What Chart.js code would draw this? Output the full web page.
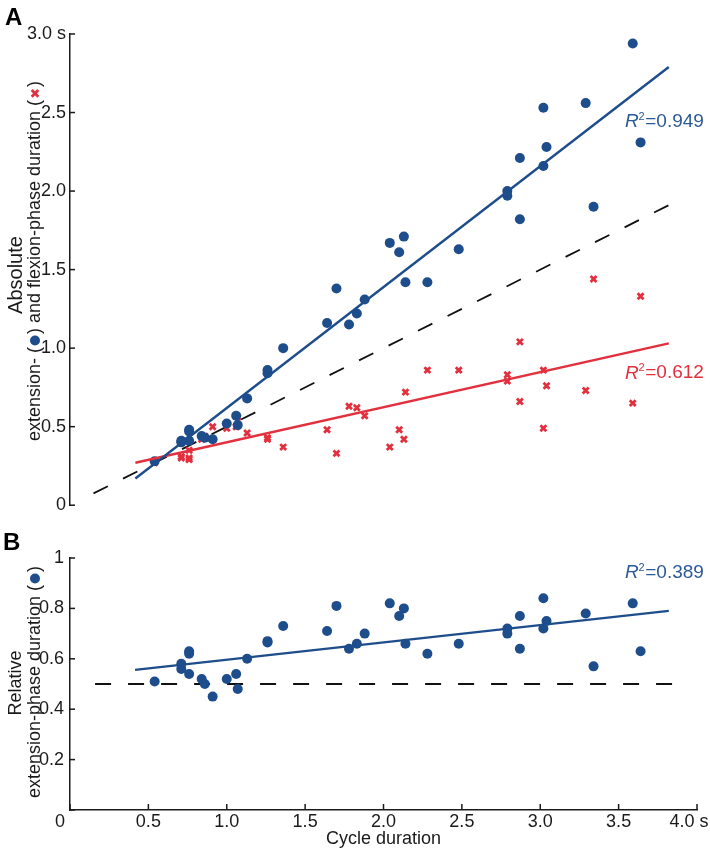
<!DOCTYPE html>
<html><head><meta charset="utf-8">
<script src="https://cdn.jsdelivr.net/npm/chart.js@4.4.1/dist/chart.umd.min.js"></script>
<style>
html,body{margin:0;padding:0;background:#fff;}
#wrap{position:relative;width:710px;height:853px;overflow:hidden;}
canvas{position:absolute;left:0;}
#cTop{top:0;}
#cBot{top:520px;}
</style></head><body>
<div id="wrap">
<canvas id="cTop" width="710" height="520"></canvas>
<canvas id="cBot" width="710" height="333"></canvas>
</div>
<script>
// ---- data ----
const cycleDuration = [0.54,0.71,0.71,0.76,0.76,0.76,0.84,0.86,0.91,1.00,1.06,1.07,1.13,1.26,1.26,1.36,1.64,1.70,1.78,1.83,1.88,2.04,2.10,2.13,2.14,2.28,2.48,2.79,2.79,2.87,2.87,3.02,3.02,3.04,3.29,3.34,3.59,3.64];
const extensionDuration = [0.28,0.41,0.40,0.48,0.47,0.41,0.44,0.43,0.42,0.52,0.57,0.51,0.68,0.86,0.84,1.00,1.16,1.38,1.15,1.22,1.31,1.67,1.61,1.71,1.42,1.42,1.63,2.00,1.97,2.21,1.82,2.53,2.16,2.28,2.56,1.90,2.94,2.31];
const flexionDuration = [0.27,0.31,0.30,0.29,0.30,0.35,0.42,0.44,0.50,0.49,0.50,0.56,0.46,0.43,0.42,0.37,0.48,0.33,0.63,0.62,0.57,0.37,0.48,0.42,0.72,0.86,0.86,0.79,0.83,0.66,1.04,0.49,0.86,0.76,0.73,1.44,0.65,1.33];
const relativeExtension = [0.51,0.58,0.56,0.63,0.62,0.54,0.52,0.50,0.45,0.52,0.54,0.48,0.60,0.67,0.665,0.73,0.71,0.81,0.64,0.66,0.70,0.82,0.77,0.80,0.66,0.62,0.66,0.72,0.70,0.77,0.64,0.84,0.72,0.75,0.78,0.57,0.82,0.63];

// fitted / reference lines (end points)
const extFitX = [0.417, 3.82];   const extFitY = [0.17, 2.79];
const flexFitX = [0.417, 3.82];  const flexFitY = [0.27, 1.03];
const halfCycleX = [0.15, 3.82]; const halfCycleY = [0.075, 1.91];
const relFitX = [0.415, 3.82];   const relFitY = [0.556, 0.79];
const halfRelX = [0.16, 3.85];   const halfRelY = [0.5, 0.5];

const r2Values = ['0.949', '0.612', '0.389'];
const r2PosX = [3.54, 3.54, 3.54];
const r2PosY = [2.44, 0.84, 0.94];

const topTickValues = [0, 0.5, 1.0, 1.5, 2.0, 2.5, 3.0];
const topTickLabels = ['0', '0.5', '1.0', '1.5', '2.0', '2.5', '3.0 s'];
const botYTickValues = [0.2, 0.4, 0.6, 0.8, 1];
const botYTickLabels = ['0.2', '0.4', '0.6', '0.8', '1'];
const xTickValues = [0, 0.5, 1.0, 1.5, 2.0, 2.5, 3.0, 3.5, 4.0];
const xTickLabels = ['0', '0.5', '1.0', '1.5', '2.0', '2.5', '3.0', '3.5', '4.0 s'];

// ---- styling ----
const FONT = '"Liberation Sans", Arial, Helvetica, sans-serif';
const BLUE = '#1e4d8c';
const BLUE_TXT = '#2b5a98';
const RED = '#e2303e';
const AXIS = '#1a1a1a';
const TXT = '#1a1a1a';

function pts(xs, ys){ return xs.map((x,i)=>({x:x, y:ys[i]})); }
function labelFor(vals, labels, v){
  for (let i=0;i<vals.length;i++) if (Math.abs(vals[i]-v)<1e-6) return labels[i];
  return '';
}

function drawCircleMarker(ctx, x, y){
  ctx.save(); ctx.fillStyle = BLUE; ctx.beginPath(); ctx.arc(x, y, 5, 0, Math.PI*2); ctx.fill(); ctx.restore();
}
function drawCrossMarker(ctx, x, y){
  ctx.save(); ctx.strokeStyle = RED; ctx.lineWidth = 2.8; ctx.lineCap='butt';
  const d = 3.3;
  ctx.beginPath(); ctx.moveTo(x-d,y-d); ctx.lineTo(x+d,y+d); ctx.moveTo(x-d,y+d); ctx.lineTo(x+d,y-d); ctx.stroke(); ctx.restore();
}
// draw rotated text made of segments; markers are {marker:fn, w:width}
function drawRotatedLine(ctx, cx, cy, parts, font){
  ctx.save();
  ctx.font = font; ctx.fillStyle = TXT; ctx.textBaseline = 'middle'; ctx.textAlign = 'left';
  let total = 0;
  parts.forEach(p => { total += (typeof p === 'string') ? ctx.measureText(p).width : p.w; });
  ctx.translate(cx, cy); ctx.rotate(-Math.PI/2);
  let x = -total/2;
  parts.forEach(p => {
    if (typeof p === 'string') { ctx.fillText(p, x, 0); x += ctx.measureText(p).width; }
    else { p.marker(ctx, x + p.w/2, 0); x += p.w; }
  });
  ctx.restore();
}
function drawR2(ctx, x, y, val, color){
  ctx.save();
  ctx.fillStyle = color; ctx.textBaseline = 'middle'; ctx.textAlign = 'left';
  ctx.font = 'italic 19px ' + FONT;
  ctx.fillText('R', x, y); let w = ctx.measureText('R').width;
  ctx.font = '11px ' + FONT;
  ctx.fillText('2', x + w, y - 5); w += ctx.measureText('2').width + 0.5;
  ctx.font = '19px ' + FONT;
  ctx.fillText('=' + val, x + w, y);
  ctx.restore();
}
function inwardYTicks(ctx, chart, len){
  const s = chart.scales.y, left = chart.chartArea.left;
  ctx.save(); ctx.strokeStyle = AXIS; ctx.lineWidth = 1.5;
  s.ticks.forEach(t => { const y = s.getPixelForValue(t.value); ctx.beginPath(); ctx.moveTo(left, y); ctx.lineTo(left+len, y); ctx.stroke(); });
  ctx.restore();
}
function inwardXTicks(ctx, chart, len){
  const s = chart.scales.x, bottom = chart.chartArea.bottom;
  ctx.save(); ctx.strokeStyle = AXIS; ctx.lineWidth = 1.5;
  s.ticks.forEach(t => { const x = s.getPixelForValue(t.value); ctx.beginPath(); ctx.moveTo(x, bottom); ctx.lineTo(x, bottom-len); ctx.stroke(); });
  ctx.restore();
}

const F18 = '18px ' + FONT;

const topDecor = {
  id: 'topDecor',
  afterDraw(chart){
    const ctx = chart.ctx, xs = chart.scales.x, ys = chart.scales.y;
    inwardYTicks(ctx, chart, 5);
    // panel letter
    ctx.save(); ctx.fillStyle = '#000'; ctx.font = 'bold 24px ' + FONT; ctx.textBaseline='alphabetic';
    ctx.fillText('A', 5, 25); ctx.restore();
    // axis title (two lines)
    drawRotatedLine(ctx, 16, 275, ['Absolute'], '20px ' + FONT);
    drawRotatedLine(ctx, 35, 261, ['extension- (', {marker:drawCircleMarker, w:13}, ') and flexion-phase duration (', {marker:drawCrossMarker, w:13}, ')'], F18);
    // R^2 labels
    drawR2(ctx, xs.getPixelForValue(r2PosX[0]), ys.getPixelForValue(r2PosY[0]), r2Values[0], BLUE_TXT);
    drawR2(ctx, xs.getPixelForValue(r2PosX[1]), ys.getPixelForValue(r2PosY[1]), r2Values[1], RED);
  }
};

const botDecor = {
  id: 'botDecor',
  afterDraw(chart){
    const ctx = chart.ctx, xs = chart.scales.x, ys = chart.scales.y;
    inwardYTicks(ctx, chart, 5);
    inwardXTicks(ctx, chart, 6);
    ctx.save(); ctx.fillStyle = '#000'; ctx.font = 'bold 24px ' + FONT; ctx.textBaseline='alphabetic';
    ctx.fillText('B', 3, 30); ctx.restore();
    drawRotatedLine(ctx, 16, 163, ['Relative'], F18);
    drawRotatedLine(ctx, 35, 162, ['extension-phase duration (', {marker:drawCircleMarker, w:13}, ')'], F18);
    drawR2(ctx, xs.getPixelForValue(r2PosX[2]), ys.getPixelForValue(r2PosY[2]), r2Values[2], BLUE_TXT);
    // end labels of the x axis (offset as in the figure)
    ctx.save(); ctx.fillStyle = TXT; ctx.font = F18; ctx.textBaseline = 'middle'; ctx.textAlign = 'center';
    const ly = chart.chartArea.bottom + 12;
    ctx.fillText(xTickLabels[0], xs.getPixelForValue(xTickValues[0]) - 10, ly);
    ctx.fillText(xTickLabels[xTickLabels.length-1], xs.getPixelForValue(xTickValues[xTickValues.length-1]) - 8, ly);
    ctx.restore();
  }
};

const common = { responsive:false, animation:false, devicePixelRatio:1, events:[] };

new Chart(document.getElementById('cTop'), {
  type: 'scatter',
  data: { datasets: [
    { label:'extension fit', data: pts(extFitX, extFitY), showLine:true, borderColor:BLUE, borderWidth:2.4, pointRadius:0, fill:false },
    { label:'flexion fit', data: pts(flexFitX, flexFitY), showLine:true, borderColor:RED, borderWidth:2.4, pointRadius:0, fill:false },
    { label:'extension', data: pts(cycleDuration, extensionDuration), pointStyle:'circle', pointRadius:5, backgroundColor:BLUE, borderWidth:0 },
    { label:'flexion', data: pts(cycleDuration, flexionDuration), pointStyle:'crossRot', pointRadius:4.2, borderColor:RED, backgroundColor:RED, borderWidth:2.8 },
    { label:'half cycle', data: pts(halfCycleX, halfCycleY), showLine:true, borderColor:'#111', borderWidth:1.8, borderDash:[16,17], pointRadius:0, fill:false }
  ]},
  options: Object.assign({}, common, {
    layout:{ padding:{ left:0, top:34, right:13, bottom:14 } },
    plugins:{ legend:{display:false}, tooltip:{enabled:false} },
    scales:{
      x:{ type:'linear', display:false, min:0, max:4 },
      y:{ type:'linear', min:0, max:3,
          afterFit(s){ s.width = 70; },
          grid:{ display:false, drawTicks:false },
          border:{ display:true, color:AXIS, width:1.5 },
          ticks:{ stepSize:0.5, padding:4, color:TXT, font:{family:FONT, size:18},
                  callback:(v)=>labelFor(topTickValues, topTickLabels, v) } }
    }
  }),
  plugins:[topDecor]
});

new Chart(document.getElementById('cBot'), {
  type: 'scatter',
  data: { datasets: [
    { label:'relative fit', data: pts(relFitX, relFitY), showLine:true, borderColor:BLUE, borderWidth:2.4, pointRadius:0, fill:false },
    { label:'relative extension', data: pts(cycleDuration, relativeExtension), pointStyle:'circle', pointRadius:5, backgroundColor:BLUE, borderWidth:0 },
    { label:'half', data: pts(halfRelX, halfRelY), showLine:true, borderColor:'#111', borderWidth:1.8, borderDash:[16,17], pointRadius:0, fill:false }
  ]},
  options: Object.assign({}, common, {
    layout:{ padding:{ left:0, top:38, right:13, bottom:0 } },
    plugins:{ legend:{display:false}, tooltip:{enabled:false} },
    scales:{
      x:{ type:'linear', min:0, max:4,
          afterFit(s){ s.height = 43; },
          grid:{ display:false, drawTicks:false },
          border:{ display:true, color:AXIS, width:1.5 },
          ticks:{ stepSize:0.5, padding:1, maxRotation:0, autoSkip:false, color:TXT, font:{family:FONT, size:18},
                  callback:(v)=>{ if (Math.abs(v)<1e-6 || Math.abs(v-4)<1e-6) return ''; return labelFor(xTickValues, xTickLabels, v); } },
          title:{ display:true, text:'Cycle duration', color:TXT, font:{family:FONT, size:18}, padding:{top:0, bottom:3} } },
      y:{ type:'linear', min:0, max:1,
          afterFit(s){ s.width = 70; },
          grid:{ display:false, drawTicks:false },
          border:{ display:true, color:AXIS, width:1.5 },
          ticks:{ stepSize:0.2, padding:6, color:TXT, font:{family:FONT, size:18},
                  callback:(v)=>labelFor(botYTickValues, botYTickLabels, v) } }
    }
  }),
  plugins:[botDecor]
});
</script>
</body></html>
